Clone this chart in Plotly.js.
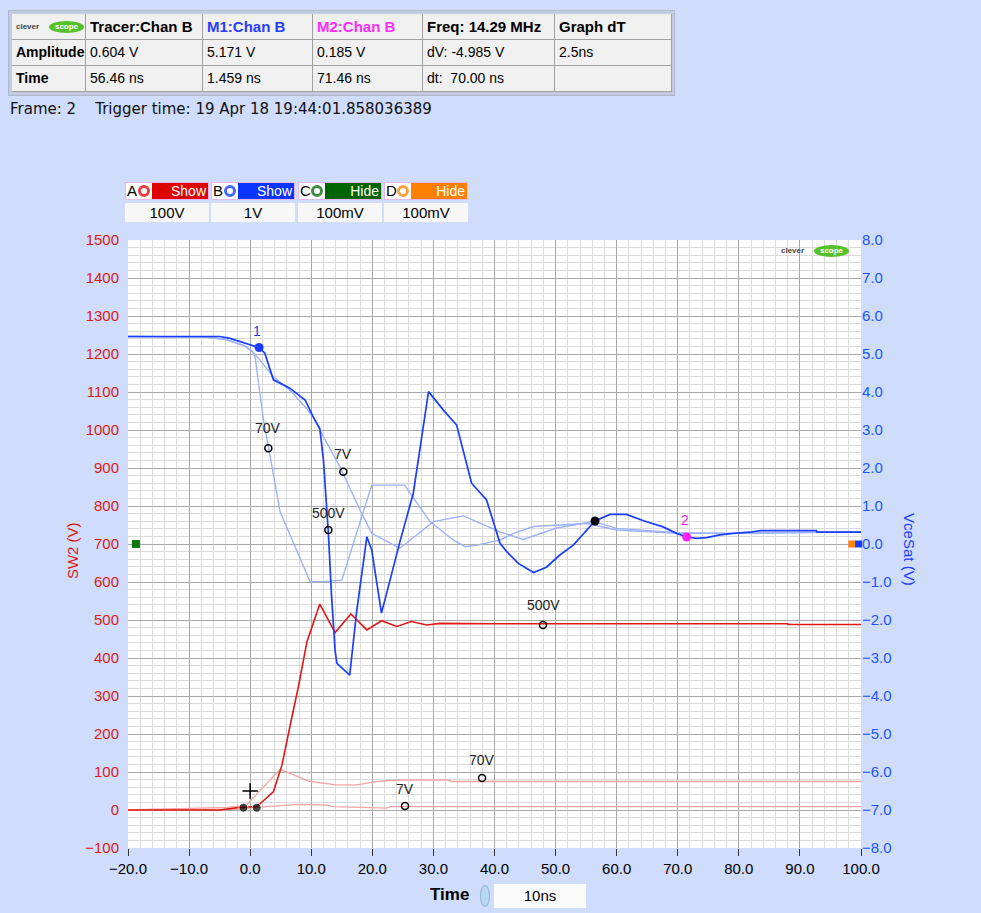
<!DOCTYPE html>
<html><head><meta charset="utf-8">
<script src="https://cdn.plot.ly/plotly-3.0.1.min.js"></script>
<style>
body{margin:0;background:#cfdcfb;font-family:"Liberation Sans",Arial,sans-serif;}
#wrap{position:relative;width:981px;height:913px;overflow:hidden;background:#cfdcfb}
#chart{position:absolute;left:0;top:0;width:981px;height:913px}
.ov{position:absolute;z-index:5;white-space:pre;}
.cell{position:absolute;z-index:5;background:#f0f0f0;border-right:1px solid #a0a0a0;border-bottom:1px solid #a0a0a0;box-sizing:border-box;font-size:14px;line-height:25px;padding-left:4px;color:#000;white-space:pre;}
.b{font-weight:bold;font-size:15px}
.btn{position:absolute;z-index:5;height:18px;box-sizing:border-box;border:1px solid #e8b8e8;background:#fff}
.val{position:absolute;z-index:5;height:19px;box-sizing:border-box;background:#f7f7f7;font-size:15px;line-height:19px;text-align:center;color:#000}
</style></head>
<body><div id="wrap"><div id="chart"></div></div>
<script>
// ---------------- data ----------------
// Channel B (VceSat, V) main trace (500 V) and references (70 V, 7 V)
const tB500 = [-20, -5, -3.3, 1.459, 2.4, 3.8, 6.5, 9.0, 10.3, 11.4, 12.0, 12.8, 13.3, 13.9, 14.2, 16.3, 17.4, 19.1, 19.9, 21.5, 24.5, 26.7, 29.2, 31.6, 33.8, 36.25, 38.7, 40.9, 42.0, 43.9, 46.4, 48.5, 50.7, 52.9, 56.46, 58.9, 61.6, 64.4, 67.6, 69.8, 71.46, 73.1, 74.7, 76.9, 79.1, 81.8, 83.5, 92.7, 92.8, 100];
const vB500 = [5.46, 5.46, 5.41, 5.171, 5.02, 4.32, 4.10, 3.79, 3.35, 3.04, 2.2, 0.3, -1.3, -2.8, -3.14, -3.45, -1.82, 0.19, -0.16, -1.82, 0.05, 1.33, 4.01, 3.53, 3.13, 1.6, 1.16, 0.02, -0.2, -0.51, -0.75, -0.61, -0.29, -0.03, 0.604, 0.78, 0.78, 0.61, 0.45, 0.28, 0.185, 0.15, 0.17, 0.24, 0.28, 0.31, 0.35, 0.35, 0.31, 0.31];
const tB70 = [-20, -7, -4, -1, 0.3, 0.8, 2.15, 4.9, 9.8, 12.0, 15.0, 19.9, 25.3, 26.2, 29.4, 33.3, 35.2, 37.1, 40.9, 43.1, 46.4, 55.1, 60.0, 70, 80, 100];
const vB70 = [5.46, 5.44, 5.38, 5.22, 5.08, 4.93, 3.3, 0.85, -0.99, -0.99, -0.95, 1.55, 1.55, 1.33, 0.6, 0.1, -0.07, -0.03, 0.1, 0.28, 0.46, 0.54, 0.37, 0.28, 0.28, 0.32];
const tB7 = [-20, -7, -4, -1, 0.3, 1.6, 3.8, 6.5, 8.7, 10.3, 11.7, 14.7, 18.0, 19.9, 24.5, 30.0, 34.9, 38.2, 40.9, 44.7, 50.2, 56.2, 60, 70, 80, 100];
const vB7 = [5.46, 5.44, 5.38, 5.22, 5.08, 4.84, 4.40, 4.05, 3.66, 3.35, 2.91, 2.03, 0.89, 0.28, -0.11, 0.59, 0.74, 0.5, 0.32, 0.12, 0.42, 0.59, 0.41, 0.3, 0.28, 0.32];
// Channel A (SW2, V) main trace (500 V) and references (70 V, 7 V)
const tA500 = [-20, -5, -1.7, 1.1, 3.8, 5.2, 6.5, 7.9, 9.3, 11.4, 13.9, 16.5, 19.1, 21.5, 24.0, 26.4, 28.9, 31.1, 40, 60, 88, 88.1, 100];
const vA500 = [0, 0, 7, 9, 48, 118, 219, 325, 443, 542, 467, 516, 474, 498, 483, 496, 487, 491, 490, 490, 490, 488, 488];
const tA70 = [-20, -3.8, -0.6, 4.9, 9.8, 14.2, 17.4, 21.3, 24.5, 32.7, 32.8, 57.3, 100];
const vA70 = [0, 7, 13, 107, 75, 66, 66, 76, 79, 79, 75, 75, 75];
const tA7 = [-20, -2, 0, 2.7, 8.2, 12.5, 13.6, 17.4, 22.3, 22.9, 100];
const vA7 = [0, 2, 5, 9, 15, 13, 9, 7, 5, 9, 9];
// label markers (open circles) and their texts
const blueLblT = [2.97, 15.25, 12.8];
const blueLblV = [2.52, 1.90, 0.37];
const blueLblTxt = ["70V", "7V", "500V"];
const blueLblShift = [20, 18, 17];
const redLblT = [47.94, 37.96, 25.35];
const redLblV = [487, 84, 10.5];
const redLblTxt = ["500V", "70V", "7V"];
const redLblShift = [20, 18, 17];
// cursors
const m1 = {t: 1.459, v: 5.171};
const m2 = {t: 71.46, v: 0.185};
const tracer = {t: 56.46, v: 0.604};
const trigT = [-1.1, 1.07];
const trigV = [6, 6];
const plusT = [0], plusV = [50];
// axis ticks
const xTicks = [-20, -10, 0, 10, 20, 30, 40, 50, 60, 70, 80, 90, 100];
// header table
const hdrRows = [
  ["", "Tracer:Chan B", "M1:Chan B", "M2:Chan B", "Freq: 14.29 MHz", "Graph dT"],
  ["Amplitude", "0.604 V", "5.171 V", "0.185 V", "dV: -4.985 V", "2.5ns"],
  ["Time", "56.46 ns", "1.459 ns", "71.46 ns", "dt:  70.00 ns", ""]
];
const chanNames = ["A", "B", "C", "D"];
const chanState = ["Show", "Show", "Hide", "Hide"];
const chanScale = ["100V", "1V", "100mV", "100mV"];

// ---------------- overlays (HTML) ----------------
const wrap = document.getElementById('wrap');
function el(cls, css, html){const d=document.createElement('div');d.className=cls;d.style.cssText=css;if(html!==undefined)d.innerHTML=html;wrap.appendChild(d);return d;}
// table frame
el('ov','left:8px;top:10px;width:667px;height:86px;background:#c3cbe0;border:1px solid #b0b8d0;box-sizing:border-box;');
const colX=[12,86,203,313,423,555,672], rowY=[14,40,66,92];
const hdrColors=["#000","#000","#2a3cff","#ff2bff","#000","#000"];
for(let r=0;r<3;r++)for(let c=0;c<6;c++){
  const bold = (r===0||c===0);
  const d=el('cell'+(bold?' b':''),`left:${colX[c]}px;top:${rowY[r]}px;width:${colX[c+1]-colX[c]}px;height:${rowY[r+1]-rowY[r]}px;color:${r===0?hdrColors[c]:'#000'};${bold&&r>0?'font-size:14px;':''}`);
  d.textContent=hdrRows[r][c];
}
// logos
function logo(x,y){
  el('ov',`left:${x}px;top:${y+1}px;font-size:8px;font-weight:bold;color:#444;line-height:10px;`,'clever');
  el('ov',`left:${x+33}px;top:${y}px;width:35px;height:12px;border-radius:50%;background:#56c02b;color:#fff;font-size:8px;font-weight:bold;line-height:12px;text-align:center;`,'scope');
}
logo(16,21);
logo(781,245);
el('ov','left:10px;top:100px;font-size:15px;color:#111;font-family:"DejaVu Sans",sans-serif;','Frame: 2    Trigger time: 19 Apr 18 19:44:01.858036389');
// channel buttons
const btnX=[125,211,298,384], btnCol=["#dd0000","#0a36ff","#006400","#ff8000"];
for(let i=0;i<4;i++){
  const x=btnX[i];
  el('btn',`left:${x}px;top:182px;width:84px;`);
  el('ov',`left:${x+2}px;top:182px;font-size:15px;line-height:18px;color:#000;`,chanNames[i]);
  el('ov',`left:${x+13}px;top:185px;width:12px;height:12px;border-radius:50%;box-sizing:border-box;border:3px solid ${btnCol[i]};opacity:0.75;`);
  el('ov',`left:${x+27}px;top:183px;width:56px;height:16px;background:${btnCol[i]};color:#fff;font-size:14px;line-height:16px;text-align:right;padding-right:2px;box-sizing:border-box;`,chanState[i]);
  el('val',`left:${x}px;top:203px;width:84px;`,chanScale[i]);
}
// time footer
el('ov','left:430px;top:885px;font-size:17px;font-weight:bold;color:#000;','Time');
el('ov','left:480px;top:885px;width:10px;height:22px;border-radius:50%;background:#b8d8f0;border:1px solid #8fb0d8;box-sizing:border-box;');
el('ov','left:494px;top:884px;width:92px;height:24px;background:#fbfbfb;font-size:15px;line-height:24px;text-align:center;color:#000;','10ns');

// ---------------- plot ----------------
const FONT = "Liberation Sans, Arial, sans-serif";
const traces = [
  {x:tA7, y:vA7, yaxis:'y', mode:'lines', line:{color:'#f5a3a3', width:1.3}},
  {x:tA70, y:vA70, yaxis:'y', mode:'lines', line:{color:'#f5a3a3', width:1.3}},
  {x:tA500, y:vA500, yaxis:'y', mode:'lines', line:{color:'#e01818', width:1.6}},
  {x:redLblT, y:redLblV, yaxis:'y', mode:'markers', marker:{symbol:'circle-open', size:7, color:'#000', line:{width:1.5}}},
  {x:trigT, y:trigV, yaxis:'y', mode:'markers', marker:{symbol:'circle', size:[9,9], color:'#000'}},
  {x:plusT, y:plusV, yaxis:'y', mode:'markers', marker:{symbol:'cross-thin-open', size:11, color:'#000', line:{width:1.6, color:'#000'}}},
  {x:tB70, y:vB70, yaxis:'y2', mode:'lines', line:{color:'#9db2ff', width:1.4}},
  {x:tB7, y:vB7, yaxis:'y2', mode:'lines', line:{color:'#9db2ff', width:1.4}},
  {x:tB500, y:vB500, yaxis:'y2', mode:'lines', line:{color:'#1b3dff', width:1.7}},
  {x:blueLblT, y:blueLblV, yaxis:'y2', mode:'markers', marker:{symbol:'circle-open', size:7, color:'#000', line:{width:1.5}}},
  {x:[m1.t], y:[m1.v], yaxis:'y2', mode:'markers', marker:{size:9, color:'#1b3dff'}},
  {x:[m2.t], y:[m2.v], yaxis:'y2', mode:'markers', marker:{size:9, color:'#ff20ff'}},
  {x:[tracer.t], y:[tracer.v], yaxis:'y2', mode:'markers', marker:{size:9, color:'#000'}},
  {x:[-18.7], y:[0], yaxis:'y2', mode:'markers', marker:{symbol:'square', size:8, color:'#0a7a0a'}, cliponaxis:false},
  {x:[98.5], y:[0], yaxis:'y2', mode:'markers', marker:{symbol:'square', size:7, color:'#ff8000'}, cliponaxis:false},
  {x:[99.6], y:[0], yaxis:'y2', mode:'markers', marker:{symbol:'square', size:7, color:'#1040ff'}, cliponaxis:false}
];
const ann = [];
blueLblT.forEach((t,i)=>ann.push({x:t, y:blueLblV[i], xref:'x', yref:'y2', text:blueLblTxt[i], showarrow:false, yshift:blueLblShift[i], font:{family:FONT, size:14, color:'#222'}}));
redLblT.forEach((t,i)=>ann.push({x:t, y:redLblV[i], xref:'x', yref:'y', text:redLblTxt[i], showarrow:false, yshift:redLblShift[i], font:{family:FONT, size:14, color:'#222'}}));
ann.push({x:m1.t, y:m1.v, xref:'x', yref:'y2', text:'1', showarrow:false, yshift:17, xshift:-2, font:{family:FONT, size:14, color:'#2a3cdd'}});
ann.push({x:m2.t, y:m2.v, xref:'x', yref:'y2', text:'2', showarrow:false, yshift:17, xshift:-2, font:{family:FONT, size:14, color:'#ff20ff'}});
ann.push({x:-0.0764, y:0.49, xref:'paper', yref:'paper', xanchor:'center', yanchor:'middle', text:'SW2 (V)', textangle:-90, showarrow:false, font:{family:FONT, size:15, color:'#e01818'}});
ann.push({x:1.0668, y:0.49, xref:'paper', yref:'paper', xanchor:'center', yanchor:'middle', text:'VceSat (V)', textangle:90, showarrow:false, font:{family:FONT, size:15, color:'#1b3dff'}});

const layout = {
  width:981, height:913,
  margin:{l:128, r:120, t:240, b:65},
  paper_bgcolor:'#cfdcfb', plot_bgcolor:'#ffffff',
  showlegend:false,
  font:{family:FONT, size:15},
  xaxis:{range:[-20,100], tickvals:xTicks, tickformat:'.1f', ticks:'outside', ticklen:7, tickcolor:'#333',
    tickfont:{family:FONT, size:15, color:'#000'}, showgrid:true, gridcolor:'#a9a9a9', gridwidth:1, zeroline:false, showline:false,
    minor:{dtick:2, showgrid:true, gridcolor:'#dadada', ticks:''}, fixedrange:true},
  yaxis:{range:[-100,1500], dtick:100, ticks:'outside', ticklen:5, tickcolor:'rgba(0,0,0,0)', tickfont:{family:FONT, size:15, color:'#e01818'},
    showgrid:true, gridcolor:'#a9a9a9', zeroline:false, showline:false,
    minor:{dtick:20, showgrid:true, gridcolor:'#dadada'}, fixedrange:true},
  yaxis2:{range:[-8,8], dtick:1, tickformat:'.1f', overlaying:'y', side:'right', ticks:'', showgrid:false, zeroline:false,
    tickfont:{family:FONT, size:15, color:'#1b55ff'}, fixedrange:true},
  annotations:ann
};
Plotly.newPlot('chart', traces, layout, {displayModeBar:false, staticPlot:true});
</script></body></html>
